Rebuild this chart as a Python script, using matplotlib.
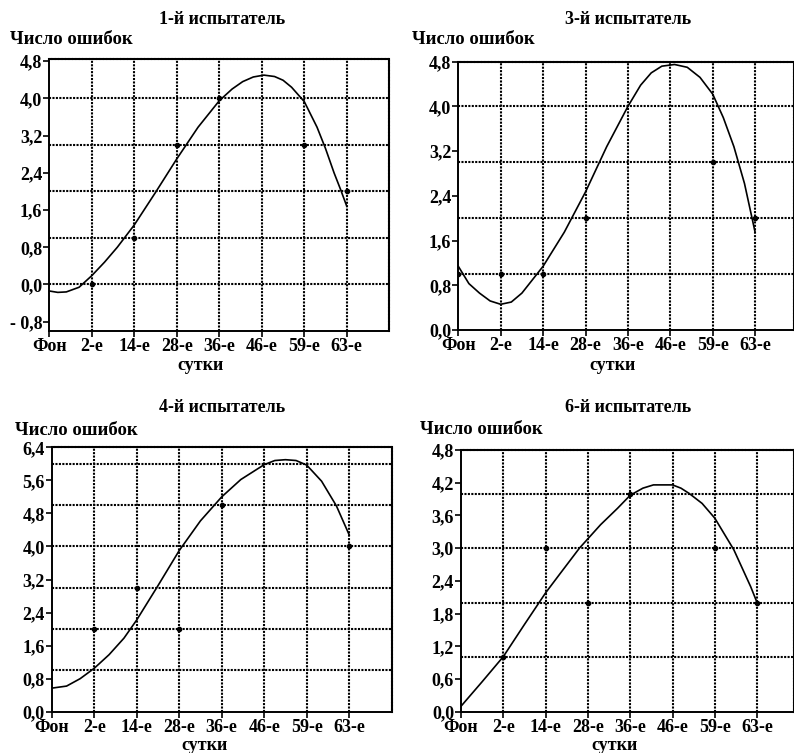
import matplotlib
matplotlib.use('Agg')
import matplotlib.pyplot as plt
from matplotlib.ticker import FixedLocator, FuncFormatter

W, H = 794, 753
FONT = 'Liberation Serif'
plt.rcParams['font.family'] = [FONT, 'DejaVu Serif']
plt.rcParams['font.weight'] = 'bold'

categories = ['Фон', '2-е', '14-е', '28-е', '36-е', '46-е', '59-е', '63-е']
x_label = 'сутки'
y_label = 'Число ошибок'

# ---- panel 1 ----
p1_title = '1-й испытатель'
p1_dots_x = [1, 2, 3, 4, 6, 7]
p1_dots_y = [0, 1, 3, 4, 3, 2]
p1_curve_x = [0.0, 0.2, 0.4, 0.7, 1.0, 1.3, 1.6, 2.0, 2.5, 3.0, 3.5, 4.0, 4.3, 4.55, 4.8, 5.05, 5.3, 5.5, 5.7, 6.0, 6.3, 6.5, 6.7, 6.85, 7.0]
p1_curve_y = [-0.14, -0.17, -0.16, -0.06, 0.19, 0.48, 0.80, 1.28, 1.98, 2.70, 3.38, 3.95, 4.20, 4.36, 4.46, 4.50, 4.47, 4.39, 4.24, 3.93, 3.38, 2.92, 2.40, 2.05, 1.68]
p1_yticks = [-0.8, 0.0, 0.8, 1.6, 2.4, 3.2, 4.0, 4.8]
p1_hgrid = [0, 1, 2, 3, 4]

# ---- panel 3 ----
p3_title = '3-й испытатель'
p3_dots_x = [0, 1, 2, 3, 6, 7]
p3_dots_y = [1, 1, 1, 2, 3, 2]
p3_curve_x = [0.0, 0.25, 0.5, 0.75, 1.0, 1.25, 1.5, 1.75, 2.0, 2.5, 3.0, 3.5, 4.0, 4.3, 4.55, 4.8, 5.1, 5.4, 5.7, 6.0, 6.25, 6.5, 6.75, 7.0]
p3_curve_y = [1.14, 0.83, 0.66, 0.52, 0.46, 0.50, 0.66, 0.90, 1.14, 1.75, 2.47, 3.28, 4.00, 4.38, 4.60, 4.72, 4.75, 4.70, 4.52, 4.22, 3.80, 3.28, 2.62, 1.75]
p3_yticks = [0.0, 0.8, 1.6, 2.4, 3.2, 4.0, 4.8]
p3_hgrid = [1, 2, 3, 4]

# ---- panel 4 ----
p4_title = '4-й испытатель'
p4_dots_x = [1, 2, 3, 4, 7]
p4_dots_y = [2, 3, 2, 5, 4]
p4_curve_x = [0.0, 0.35, 0.67, 1.0, 1.35, 1.7, 2.0, 2.5, 3.0, 3.5, 4.0, 4.45, 5.0, 5.25, 5.5, 5.75, 6.0, 6.35, 6.7, 7.0]
p4_curve_y = [0.57, 0.62, 0.80, 1.05, 1.38, 1.78, 2.22, 3.05, 3.90, 4.62, 5.20, 5.62, 5.98, 6.08, 6.10, 6.08, 5.97, 5.58, 4.98, 4.28]
p4_yticks = [0.0, 0.8, 1.6, 2.4, 3.2, 4.0, 4.8, 5.6, 6.4]
p4_hgrid = [1, 2, 3, 4, 5, 6]

# ---- panel 6 ----
p6_title = '6-й испытатель'
p6_dots_x = [1, 2, 3, 4, 6, 7]
p6_dots_y = [1, 3, 2, 4, 3, 2]
p6_curve_x = [0.0, 0.5, 1.0, 1.5, 2.0, 2.35, 2.8, 3.3, 3.7, 4.0, 4.3, 4.55, 5.0, 5.2, 5.4, 5.7, 6.0, 6.45, 6.85, 7.0]
p6_curve_y = [0.10, 0.55, 1.01, 1.60, 2.18, 2.54, 3.00, 3.43, 3.73, 3.97, 4.10, 4.16, 4.16, 4.10, 4.00, 3.82, 3.55, 2.97, 2.29, 2.00]
p6_yticks = [0.0, 0.6, 1.2, 1.8, 2.4, 3.0, 3.6, 4.2, 4.8]
p6_hgrid = [1, 2, 3, 4]

DOT = (0, (1, 0.65))

fig = plt.figure(figsize=(W / 100, H / 100), dpi=100)


def fmt(v, pos=None):
    s = f"{abs(v):.1f}".replace('.', ',')
    return ('- ' + s) if v < -1e-9 else s


def panel(rect_px, xmax, ylim, title, title_xy, ylab_xy, xlab_xy,
          cx, cy, dx, dy, yticks, hgrid):
    l, r, t, b = rect_px
    ax = fig.add_axes([l / W, 1 - b / H, (r - l) / W, (b - t) / H])
    ax.set_xlim(0, xmax)
    ax.set_ylim(*ylim)
    for v in hgrid:
        ax.axhline(v, color='black', lw=1.5, ls=DOT, zorder=1)
    for k in range(1, len(categories)):
        ax.axvline(k, color='black', lw=1.5, ls=DOT, zorder=1)
    ax.plot(cx, cy, color='black', lw=1.2, zorder=3)
    ax.plot(dx, dy, 'o', color='black', ms=3, zorder=4)
    ax.xaxis.set_major_locator(FixedLocator(list(range(len(categories)))))
    ax.set_xticklabels(categories)
    ax.yaxis.set_major_locator(FixedLocator(yticks))
    ax.yaxis.set_major_formatter(FuncFormatter(fmt))
    ax.tick_params(direction='out', length=4, width=1.2, labelsize=13, pad=1)
    for lab in ax.get_xticklabels() + ax.get_yticklabels():
        lab.set_fontweight('bold')
    for s in ('left', 'bottom'):
        ax.spines[s].set_linewidth(1.4)
    for s in ('top', 'right'):
        ax.spines[s].set_linestyle(DOT)
        ax.spines[s].set_linewidth(1.5)
    fig.text(title_xy[0] / W, 1 - title_xy[1] / H, title, ha='center', va='center',
             fontsize=13, fontweight='bold')
    fig.text(ylab_xy[0] / W, 1 - ylab_xy[1] / H, y_label, ha='left', va='center',
             fontsize=13.5, fontweight='bold')
    fig.text(xlab_xy[0] / W, 1 - xlab_xy[1] / H, x_label, ha='center', va='center',
             fontsize=13, fontweight='bold')
    return ax


panel((49.3, 389.3, 59.3, 331), 8.0, (-1.0, 4.84), p1_title, (222, 20), (10, 40), (200, 366),
      p1_curve_x, p1_curve_y, p1_dots_x, p1_dots_y, p1_yticks, p1_hgrid)
panel((458.3, 794, 61.7, 330), (794 - 458.3) / 42.4, (0, 4.8), p3_title, (628, 20), (412, 40), (612, 366),
      p3_curve_x, p3_curve_y, p3_dots_x, p3_dots_y, p3_yticks, p3_hgrid)
panel((51.7, 391.7, 447.3, 711.7), 8.0, (0, 6.4), p4_title, (222, 408), (15, 430), (205, 745),
      p4_curve_x, p4_curve_y, p4_dots_x, p4_dots_y, p4_yticks, p4_hgrid)
panel((461, 794, 450, 711.7), (794 - 461) / 42.3, (0, 4.8), p6_title, (628, 408), (420, 429), (614, 745),
      p6_curve_x, p6_curve_y, p6_dots_x, p6_dots_y, p6_yticks, p6_hgrid)

fig.savefig('out.png', dpi=100, facecolor='white')
